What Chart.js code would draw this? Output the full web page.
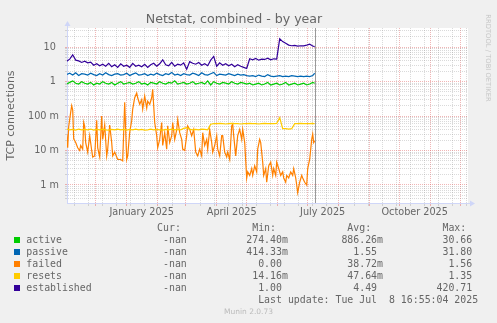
<!DOCTYPE html>
<html>
<head>
<meta charset="utf-8">
<script src="https://cdn.jsdelivr.net/npm/chart.js@4.4.1/dist/chart.umd.min.js"></script>
<style>
html, body { margin: 0; padding: 0; background: #f0f0f0; }
#wrap { position: relative; width: 497px; height: 323px; overflow: hidden; }
#graph { position: absolute; left: 0; top: 0; }
.row { position: absolute; left: 26.3px; height: 12px; line-height: 12px; font-family: "DejaVu Sans Mono", monospace; font-size: 9.9px; color: #666; white-space: pre; }
.swatch { position: absolute; left: 14px; width: 6px; height: 6px; }
#munin { position: absolute; left: 0; top: 306px; width: 497px; text-align: center; font-family: "DejaVu Sans"; font-size: 7.5px; line-height: 12px; color: #bbb; }
#rrd { position: absolute; left: 438px; top: 53px; width: 100px; height: 10px; line-height: 10px; text-align: center; font-family: "DejaVu Sans"; font-size: 6.8px; color: #c8c8c8; transform: rotate(90deg); white-space: nowrap; }
</style>
</head>
<body>
<div id="wrap">
  <canvas id="graph" width="497" height="323"></canvas>
  <div id="legend"></div>
  <div id="munin">Munin 2.0.73</div>
  <div id="rrd">RRDTOOL / TOBI OETIKER</div>
</div>
<script>
// days relative to 1 Jan 2025
var days = [-60,-57,-54,-51,-48,-45,-42,-39,-36,-33,
            -30,-27,-24,-21,-18,-15,-12,-9,-6,-3,
            0,3,6,9,12,15,18,21,24,27,
            30,33,36,39,42,45,48,51,54,57,
            60,63,66,69,72,75,78,81,84,87,
            90,93,96,99,102,105,108,111,114,117,
            120,123,126,129,132,135,138,141,144,147,
            150,153,156,159,162,165,168,171,174,177,
            180,183,186,188];

var active = [0.85,0.95,1.05,0.9,0.85,1.0,0.9,0.85,0.95,0.8,
              0.9,0.85,1.0,0.9,0.85,0.95,0.8,0.9,1.0,0.85,
              0.9,0.95,0.85,0.9,1.0,0.85,0.9,0.8,0.95,0.9,
              0.85,1.0,0.9,0.85,0.95,0.9,1.05,0.85,0.9,0.95,
              0.85,0.9,1.0,0.85,0.9,0.95,0.85,1.05,0.8,1.0,
              0.9,0.85,0.95,0.9,0.85,1.0,0.9,0.85,0.95,0.9,
              0.85,0.9,0.8,0.85,0.9,0.8,0.85,0.95,0.8,0.85,
              0.9,0.8,0.85,0.95,0.8,0.85,0.9,0.8,0.85,0.9,
              0.8,0.85,0.95,0.9];

var passive = [1.6,1.75,1.55,1.8,1.5,1.7,1.65,1.55,1.75,1.6,
               1.5,1.7,1.55,1.8,1.6,1.5,1.65,1.7,1.55,1.6,
               1.75,1.5,1.65,1.8,1.55,1.6,1.7,1.5,1.65,1.55,
               1.75,1.6,1.5,1.7,1.6,1.85,1.55,1.65,1.5,1.7,
               1.6,1.55,1.75,1.65,1.5,1.8,1.6,1.55,1.7,1.85,
               1.5,1.65,1.6,1.55,1.7,1.6,1.5,1.65,1.55,1.6,
               1.5,1.45,1.5,1.4,1.55,1.45,1.4,1.6,1.45,1.4,
               1.45,1.5,1.4,1.45,1.4,1.5,1.45,1.4,1.45,1.4,
               1.45,1.4,1.5,1.75];

var resets = [0.042,0.04,0.041,0.039,0.042,0.04,0.041,0.04,0.042,0.039,
              0.041,0.04,0.042,0.04,0.039,0.041,0.04,0.042,0.04,0.041,
              0.039,0.041,0.04,0.042,0.04,0.041,0.039,0.04,0.042,0.04,
              0.041,0.04,0.039,0.041,0.04,0.042,0.04,0.041,0.04,0.044,
              0.046,0.042,0.04,0.041,0.04,0.042,0.041,0.04,0.058,0.06,
              0.06,0.061,0.06,0.059,0.06,0.061,0.06,0.06,0.059,0.06,
              0.06,0.061,0.06,0.06,0.059,0.06,0.061,0.06,0.06,0.06,
              0.061,0.09,0.043,0.043,0.042,0.043,0.06,0.06,0.061,0.06,
              0.06,0.06,0.061,0.06];

var established = [3.9,4.5,6.0,4.2,4.0,3.6,3.9,3.5,3.7,3.0,
                   3.3,2.9,3.2,2.8,3.4,2.7,3.1,2.6,3.3,2.8,
                   3.0,2.6,3.4,2.8,3.0,2.7,3.2,2.6,3.1,3.4,
                   2.8,3.3,4.3,3.1,2.9,3.6,2.8,3.2,3.0,3.5,
                   2.3,3.8,3.4,3.2,3.6,3.0,3.3,2.9,4.2,5.4,
                   2.8,3.5,3.0,3.3,2.9,3.2,2.7,3.1,2.8,2.6,
                   2.4,4.6,4.3,4.7,4.2,4.5,4.4,4.8,4.3,4.6,
                   4.5,17.5,14.5,13,11.5,11,11.2,10.8,11,10.9,
                   11.5,12.2,10.8,10.4];

// failed is much noisier, so it gets its own day list
var failedDays = [-60,-59,-58,-56,-55,-54,-53,-51,-49,-47,-46,-44,-43,-42,-41,-39,-37,-35,-34,-32,
                  -30,-29,-27,-25,-24,-22,-20,-19,-17,-15,-14,-12,-10,-9,-6,-4,-2,0,1,3,
                  5,6,8,10,11,13,15,16,18,20,21,23,25,26,28,30,31,33,35,36,
                  38,40,41,43,45,46,48,50,51,53,55,56,58,60,61,63,65,67,69,71,
                  73,75,76,78,80,81,83,85,86,88,90,91,93,95,96,98,100,101,103,105,
                  106,107,109,111,113,115,116,118,120,121,123,125,126,128,130,131,133,134,136,137,
                  139,140,142,144,146,147,149,150,152,154,156,157,159,160,162,164,166,167,169,170,
                  171,173,175,176,178,180,181,183,185,186,187,188];
var failed = [0.03,0.012,0.05,0.13,0.2,0.15,0.022,0.017,0.012,0.01,0.014,0.011,0.065,0.05,0.017,0.009,0.027,0.01,0.0065,0.007,
              0.075,0.012,0.0065,0.1,0.021,0.055,0.007,0.011,0.055,0.017,0.007,0.009,0.0065,0.0055,0.0055,0.005,0.25,0.0055,0.007,0.033,
              0.075,0.16,0.34,0.47,0.34,0.22,0.3,0.16,0.38,0.17,0.27,0.22,0.34,0.6,0.065,0.027,0.012,0.021,0.065,0.014,
              0.033,0.011,0.052,0.017,0.027,0.065,0.021,0.04,0.08,0.033,0.021,0.011,0.01,0.027,0.052,0.041,0.027,0.041,0.009,0.007,
              0.011,0.007,0.033,0.014,0.021,0.011,0.041,0.017,0.009,0.014,0.027,0.011,0.007,0.027,0.027,0.009,0.0065,0.009,0.0055,0.052,
              0.058,0.027,0.007,0.027,0.041,0.021,0.041,0.017,0.0016,0.0024,0.0019,0.003,0.0019,0.0036,0.0024,0.011,0.021,0.017,0.0046,0.0019,
              0.003,0.0012,0.0036,0.0046,0.0019,0.003,0.0019,0.0046,0.003,0.0019,0.0024,0.0016,0.0012,0.0019,0.0016,0.0024,0.0019,0.003,0.0016,0.001,
              0.0006,0.0012,0.0019,0.0016,0.0012,0.001,0.003,0.0056,0.021,0.03,0.017,0.019];

var seriesNames = ['active', 'passive', 'failed', 'resets', 'established'];
var seriesColors = ['#00cc00', '#0066b3', '#ff8000', '#ffcc00', '#330099'];
var curValues = ['-nan', '-nan', '-nan', '-nan', '-nan'];
var minValues = ['274.40m', '414.33m', '0.00', '14.16m', '1.00'];
var avgValues = ['886.26m', '1.55', '38.72m', '47.64m', '4.49'];
var maxValues = ['30.66', '31.80', '1.56', '1.35', '420.71'];
var lastUpdate = 'Last update: Tue Jul  8 16:55:04 2025';

var monthStarts = [-31, 0, 31, 59, 90, 120, 151, 181, 212, 243, 273, 304, 334];
var monthLabels = { 0: 'January 2025', 90: 'April 2025', 181: 'July 2025', 273: 'October 2025' };
var decades = [0.001, 0.01, 0.1, 1, 10];
var decadeLabels = ['1 m', '10 m', '100 m', '1 ', '10 '];
var nowDay = 188;

var xMin = -59.7, xMax = 341.3;
var yMin = 3.26e-4, yMax = 35.97;

var gridMinor = 'rgba(150,150,150,0.35)';
var gridMajor = 'rgba(225,90,90,0.45)';
var axisColor = '#cfd6f8';
var fontColor = '#666';

function points(xs, ys) {
    return xs.map(function (x, i) { return { x: x, y: ys[i] }; });
}

// month lines are major, two-weekly lines are minor
function buildXTicks() {
    var ticks = monthStarts.filter(function (d) { return d >= xMin && d <= xMax; })
        .map(function (d) { return { value: d, major: true }; });
    for (var d = 3.4 - 56; d <= xMax; d += 14) {
        var near = monthStarts.some(function (m) { return Math.abs(m - d) < 1.5; });
        if (d >= xMin && !near) ticks.push({ value: d, major: false });
    }
    return ticks.sort(function (a, b) { return a.value - b.value; });
}

function buildYTicks() {
    var ticks = [];
    [0.0001, 0.001, 0.01, 0.1, 1, 10].forEach(function (dec) {
        for (var m = 1; m <= 9; m++) {
            var v = m * dec;
            if (v >= yMin && v <= yMax) ticks.push({ value: v, major: m === 1 });
        }
    });
    return ticks;
}

function gridColor(ctx) {
    return ctx.tick && ctx.tick.major ? gridMajor : gridMinor;
}

var plotBackground = {
    id: 'plotBackground',
    beforeDraw: function (chart) {
        var a = chart.chartArea, ctx = chart.ctx;
        ctx.save();
        ctx.fillStyle = '#ffffff';
        ctx.fillRect(a.left, a.top, a.right - a.left, a.bottom - a.top);
        ctx.restore();
    }
};

// the "now" rule and the little axis arrows
var axisDecor = {
    id: 'axisDecor',
    afterDraw: function (chart) {
        var a = chart.chartArea, ctx = chart.ctx;
        var nx = Math.round(chart.scales.x.getPixelForValue(nowDay)) + 0.5;
        ctx.save();
        ctx.strokeStyle = '#999';
        ctx.lineWidth = 1;
        ctx.beginPath();
        ctx.moveTo(nx, a.top);
        ctx.lineTo(nx, a.bottom);
        ctx.stroke();

        ctx.strokeStyle = axisColor;
        ctx.fillStyle = axisColor;
        ctx.beginPath();
        ctx.moveTo(a.left + 0.5, a.top);
        ctx.lineTo(a.left + 0.5, a.top - 3);
        ctx.moveTo(a.right, a.bottom + 0.5);
        ctx.lineTo(a.right + 3, a.bottom + 0.5);
        ctx.stroke();
        ctx.beginPath();
        ctx.moveTo(a.left + 0.5, a.top - 7);
        ctx.lineTo(a.left - 2.5, a.top - 2);
        ctx.lineTo(a.left + 3.5, a.top - 2);
        ctx.closePath();
        ctx.fill();
        ctx.beginPath();
        ctx.moveTo(a.right + 7, a.bottom + 0.5);
        ctx.lineTo(a.right + 2, a.bottom - 2.5);
        ctx.lineTo(a.right + 2, a.bottom + 3.5);
        ctx.closePath();
        ctx.fill();
        ctx.restore();
    }
};

var datasets = [
    { label: 'established', data: points(days, established), borderColor: seriesColors[4], order: 0 },
    { label: 'resets', data: points(days, resets), borderColor: seriesColors[3], order: 1 },
    { label: 'failed', data: points(failedDays, failed), borderColor: seriesColors[2], order: 2 },
    { label: 'passive', data: points(days, passive), borderColor: seriesColors[1], order: 3 },
    { label: 'active', data: points(days, active), borderColor: seriesColors[0], order: 4 }
];
datasets.forEach(function (ds) {
    ds.borderWidth = 1.2;
    ds.pointRadius = 0;
    ds.fill = false;
    ds.tension = 0;
});

var config = {
    type: 'line',
    data: { datasets: datasets },
    options: {
        responsive: false,
        animation: false,
        events: [],
        layout: { padding: { left: 0, right: 29, top: 0, bottom: 0 } },
        plugins: {
            legend: { display: false },
            tooltip: { enabled: false },
            title: {
                display: true,
                text: 'Netstat, combined - by year',
                color: fontColor,
                font: { family: 'DejaVu Sans', size: 12.6, weight: 'normal' },
                padding: { top: 12.5, bottom: 0.4 }
            }
        },
        scales: {
            x: {
                type: 'linear',
                min: xMin,
                max: xMax,
                afterBuildTicks: function (scale) { scale.ticks = buildXTicks(); },
                afterFit: function (scale) { scale.height = 120; },
                ticks: {
                    autoSkip: false,
                    maxRotation: 0,
                    labelOffset: 15,
                    padding: 1,
                    color: fontColor,
                    font: { family: 'DejaVu Sans', size: 9.7 },
                    callback: function (v) { return monthLabels[v] || ''; }
                },
                grid: { color: gridColor, tickColor: gridColor, tickLength: 3, lineWidth: 1 },
                border: { color: axisColor, dash: [1, 1] }
            },
            y: {
                type: 'logarithmic',
                min: yMin,
                max: yMax,
                afterBuildTicks: function (scale) { scale.ticks = buildYTicks(); },
                afterFit: function (scale) { scale.width = 67; },
                ticks: {
                    autoSkip: false,
                    padding: 6,
                    color: fontColor,
                    font: { family: 'DejaVu Sans', size: 9.7 },
                    callback: function (v) {
                        var i = decades.findIndex(function (d) { return Math.abs(d - v) < d * 1e-6; });
                        return i >= 0 ? decadeLabels[i] : '';
                    }
                },
                grid: { color: gridColor, tickColor: gridColor, tickLength: 2, lineWidth: 1 },
                border: { color: axisColor, dash: [1, 1] },
                title: {
                    display: true,
                    text: 'TCP connections',
                    color: fontColor,
                    font: { family: 'DejaVu Sans', size: 11 },
                    padding: { top: 4.2, bottom: 0 }
                }
            }
        }
    },
    plugins: [plotBackground, axisDecor]
};

var chart = new Chart(document.getElementById('graph').getContext('2d'), config);

// legend table below the graph, monospaced like rrdtool's GPRINT lines
function field(v) {
    var s = /m$/.test(v) ? v : v + ' ';
    return s.padStart(7);
}

function addRow(text, centerY, color) {
    var legend = document.getElementById('legend');
    var row = document.createElement('div');
    row.className = 'row';
    row.style.top = (centerY - 6) + 'px';
    row.textContent = text;
    legend.appendChild(row);
    if (color) {
        var sw = document.createElement('div');
        sw.className = 'swatch';
        sw.style.background = color;
        sw.style.top = (centerY - 3) + 'px';
        legend.appendChild(sw);
    }
}

var rowY = 227.5;
addRow(' '.repeat(22) + 'Cur:' + ' '.repeat(12) + 'Min:' + ' '.repeat(12) + 'Avg:' + ' '.repeat(12) + 'Max:', rowY);
seriesNames.forEach(function (name, i) {
    rowY += 12;
    addRow(name.padEnd(21) + curValues[i].padStart(6) + ' '.repeat(10) + field(minValues[i]) +
           ' '.repeat(9) + field(avgValues[i]) + ' '.repeat(9) + field(maxValues[i]), rowY, seriesColors[i]);
});
rowY += 12;
addRow(' '.repeat(39) + lastUpdate, rowY);
</script>
</body>
</html>
